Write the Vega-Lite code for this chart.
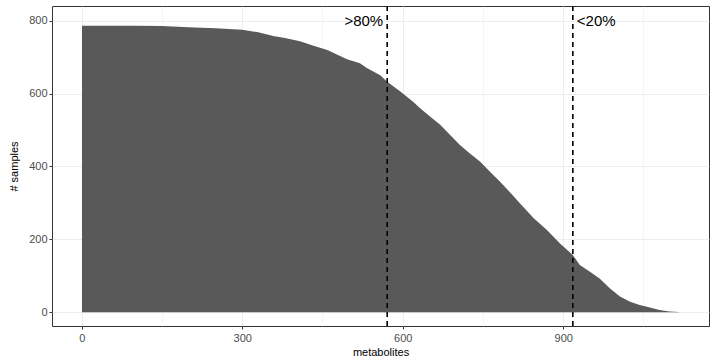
{
  "$schema": "https://vega.github.io/schema/vega-lite/v6.json",
  "width": 657,
  "height": 320,
  "autosize": {"type": "none"},
  "padding": {"left": 52, "top": 6, "right": 1, "bottom": 37},
  "background": "white",
  "config": {
    "view": {"stroke": "#333333", "strokeWidth": 1},
    "font": "Liberation Sans",
    "axis": {
      "domain": false,
      "gridColor": "#EBEBEB",
      "tickColor": "#333333",
      "tickSize": 3,
      "labelColor": "#4D4D4D",
      "labelFontSize": 11,
      "labelFont": "Liberation Sans",
      "titleFont": "Liberation Sans",
      "titleFontSize": 11,
      "titleFontWeight": "normal",
      "titleColor": "black"
    }
  },
  "datasets": {
    "counts": [
      {"metabolite": 0.55, "samples": 786},
      {"metabolite": 50, "samples": 786},
      {"metabolite": 100, "samples": 786},
      {"metabolite": 150, "samples": 785},
      {"metabolite": 200, "samples": 782},
      {"metabolite": 250, "samples": 779},
      {"metabolite": 300, "samples": 775},
      {"metabolite": 330, "samples": 768},
      {"metabolite": 358, "samples": 758},
      {"metabolite": 380, "samples": 752},
      {"metabolite": 408, "samples": 743},
      {"metabolite": 432, "samples": 732},
      {"metabolite": 459, "samples": 719},
      {"metabolite": 480, "samples": 705},
      {"metabolite": 496, "samples": 694},
      {"metabolite": 520, "samples": 683},
      {"metabolite": 533, "samples": 670},
      {"metabolite": 558, "samples": 650},
      {"metabolite": 571, "samples": 632},
      {"metabolite": 595, "samples": 606},
      {"metabolite": 620, "samples": 577},
      {"metabolite": 632, "samples": 560},
      {"metabolite": 650, "samples": 538},
      {"metabolite": 670, "samples": 514},
      {"metabolite": 690, "samples": 484},
      {"metabolite": 707, "samples": 459},
      {"metabolite": 725, "samples": 436},
      {"metabolite": 745, "samples": 413},
      {"metabolite": 765, "samples": 383},
      {"metabolite": 782, "samples": 358},
      {"metabolite": 800, "samples": 330},
      {"metabolite": 819, "samples": 299},
      {"metabolite": 844, "samples": 259},
      {"metabolite": 870, "samples": 225},
      {"metabolite": 894, "samples": 189},
      {"metabolite": 918, "samples": 157},
      {"metabolite": 931, "samples": 130},
      {"metabolite": 950, "samples": 111},
      {"metabolite": 968, "samples": 93},
      {"metabolite": 987, "samples": 66},
      {"metabolite": 1006, "samples": 43},
      {"metabolite": 1025, "samples": 29},
      {"metabolite": 1043, "samples": 20},
      {"metabolite": 1062, "samples": 13},
      {"metabolite": 1080, "samples": 6},
      {"metabolite": 1099, "samples": 2},
      {"metabolite": 1116, "samples": 1}
    ],
    "cutoffs": [
      {"metabolite": 571, "samples": 800, "label": ">80%", "side": "left"},
      {"metabolite": 918, "samples": 800, "label": "<20%", "side": "right"}
    ]
  },
  "layer": [
    {
      "data": {"name": "counts"},
      "mark": {"type": "area", "color": "#595959", "interpolate": "linear"},
      "encoding": {
        "x": {
          "field": "metabolite",
          "type": "quantitative",
          "title": "metabolites",
          "scale": {"domain": [-55.5, 1172.5], "nice": false, "zero": false},
          "axis": {
            "values": [0, 150, 300, 450, 600, 750, 900, 1050],
            "labelExpr": "datum.value % 300 === 0 ? datum.label : ''",
            "tickOpacity": {"condition": {"test": "datum.value % 300 !== 0", "value": 0}, "value": 1},
            "gridWidth": {"condition": {"test": "datum.value % 300 !== 0", "value": 0.5}, "value": 0.9},
            "labelPadding": 3,
            "titlePadding": 3
          }
        },
        "y": {
          "field": "samples",
          "type": "quantitative",
          "title": "# samples",
          "scale": {"domain": [-37.6, 840], "nice": false, "zero": false},
          "axis": {
            "values": [0, 100, 200, 300, 400, 500, 600, 700, 800],
            "labelExpr": "datum.value % 200 === 0 ? datum.label : ''",
            "tickOpacity": {"condition": {"test": "datum.value % 200 !== 0", "value": 0}, "value": 1},
            "gridWidth": {"condition": {"test": "datum.value % 200 !== 0", "value": 0.5}, "value": 0.9},
            "labelPadding": 2,
            "titlePadding": 9
          }
        },
        "y2": {"datum": 0}
      }
    },
    {
      "data": {"name": "cutoffs"},
      "mark": {"type": "rule", "color": "black", "strokeWidth": 1.6, "strokeDash": [5, 4]},
      "encoding": {
        "x": {"field": "metabolite", "type": "quantitative"}
      }
    },
    {
      "data": {"name": "cutoffs"},
      "transform": [{"filter": "datum.side === 'left'"}],
      "mark": {"type": "text", "align": "right", "baseline": "middle", "dx": -4, "fontSize": 15, "color": "black", "font": "Liberation Sans"},
      "encoding": {
        "x": {"field": "metabolite", "type": "quantitative"},
        "y": {"field": "samples", "type": "quantitative"},
        "text": {"field": "label"}
      }
    },
    {
      "data": {"name": "cutoffs"},
      "transform": [{"filter": "datum.side === 'right'"}],
      "mark": {"type": "text", "align": "left", "baseline": "middle", "dx": 4, "fontSize": 15, "color": "black", "font": "Liberation Sans"},
      "encoding": {
        "x": {"field": "metabolite", "type": "quantitative"},
        "y": {"field": "samples", "type": "quantitative"},
        "text": {"field": "label"}
      }
    }
  ]
}
